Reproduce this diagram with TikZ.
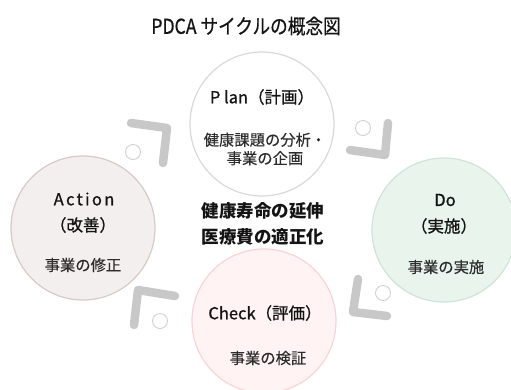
\documentclass[tikz,border=0pt]{standalone}
\usepackage{fontspec}
\setmainfont{Noto Sans CJK JP}
\newfontfamily\titlefont{Noto Sans CJK JP}[FakeStretch=0.86,FakeBold=0.6]
\newfontfamily\headfont{Noto Sans CJK JP}[FakeBold=0.9]
\newfontfamily\spacedfont{Noto Sans CJK JP}[LetterSpace=14,FakeBold=0.9]
\newfontfamily\subfont{Noto Sans CJK JP}[FakeBold=0.3]
\definecolor{planfill}{RGB}{255,255,255}
\definecolor{planline}{RGB}{217,217,217}
\definecolor{actfill}{RGB}{243,239,238}
\definecolor{actline}{RGB}{216,202,198}
\definecolor{dofill}{RGB}{233,244,237}
\definecolor{doline}{RGB}{206,229,215}
\definecolor{chkfill}{RGB}{255,243,243}
\definecolor{chkline}{RGB}{250,212,212}
\definecolor{arrowgray}{RGB}{200,200,200}
\definecolor{ringgray}{RGB}{208,208,208}
\definecolor{txt}{RGB}{20,20,20}
\definecolor{subtxt}{RGB}{45,45,45}
\begin{document}
\begin{tikzpicture}[x=1pt,y=-1pt,
  phase/.style={circle,minimum size=144pt,inner sep=0pt,line width=1.2pt},
  head/.style={text=txt,font=\headfont\fontsize{16.5}{20}\selectfont,align=center,inner sep=0pt},
  sub/.style={text=subtxt,font=\subfont\fontsize{15.3}{18.5}\selectfont,align=center,inner sep=0pt},
  turn/.style={draw=arrowgray,line width=8.5pt,line cap=round,line join=round},
  ring/.style={circle,draw=ringgray,fill=white,line width=0.9pt,minimum size=15pt,inner sep=0pt}]
\useasboundingbox (0,0) rectangle (511,389);
% circles
\node[phase,draw=planline,fill=planfill] (plan) at (262,124) {};
\node[phase,draw=actline,fill=actfill] (act) at (83,228) {};
\node[phase,draw=doline,fill=dofill] (do) at (444,230) {};
\node[phase,draw=chkline,fill=chkfill] (chk) at (264,321) {};
% turning arrows
\coordinate (a1s) at (131,123); \coordinate (a1c) at (167,128); \coordinate (a1e) at (163,163);
\draw[turn] (a1s) -- (a1c) -- (a1e);
\node[ring] (r1) at (133,152) {};
\coordinate (a2s) at (388,123); \coordinate (a2c) at (385,155); \coordinate (a2e) at (350,150);
\draw[turn] (a2s) -- (a2c) -- (a2e);
\node[ring] (r2) at (363,128) {};
\coordinate (a3s) at (358,279); \coordinate (a3c) at (353,312); \coordinate (a3e) at (387,316);
\draw[turn] (a3s) -- (a3c) -- (a3e);
\node[ring] (r3) at (383,293) {};
\coordinate (a4s) at (175,296); \coordinate (a4c) at (138,290); \coordinate (a4e) at (134,325);
\draw[turn] (a4s) -- (a4c) -- (a4e);
\node[ring] (r4) at (160,321) {};
% title
\node[text=txt,font=\titlefont\fontsize{20.5}{24}\selectfont,inner sep=0pt] (title) at (246,26) {PDCA サイクルの概念図};
% plan
\node[head] (planh) at (262,97) {P lan（計画）};
\node[sub] (plans) at (265,149) {健康課題の分析・\\[0pt]事業の企画};
% action
\node[head] (acth) at (84,199) {{\spacedfont Action}};
\node[head] (actj) at (83,225) {（改善）};
\node[sub] (acts) at (83,265) {事業の修正};
% do
\node[head] (doh) at (445,200) {Do};
\node[head] (doj) at (444,226) {（実施）};
\node[sub] (dos) at (446,267) {事業の実施};
% check
\node[head] (chkh) at (265,313) {Check（評価）};
\node[sub] (chks) at (268,358) {事業の検証};
% center
\node[text=txt,font=\bfseries\fontsize{17.5}{26}\selectfont,align=center,inner sep=0pt] (goal) at (263,224) {健康寿命の延伸\\医療費の適正化};
\end{tikzpicture}
\end{document}
